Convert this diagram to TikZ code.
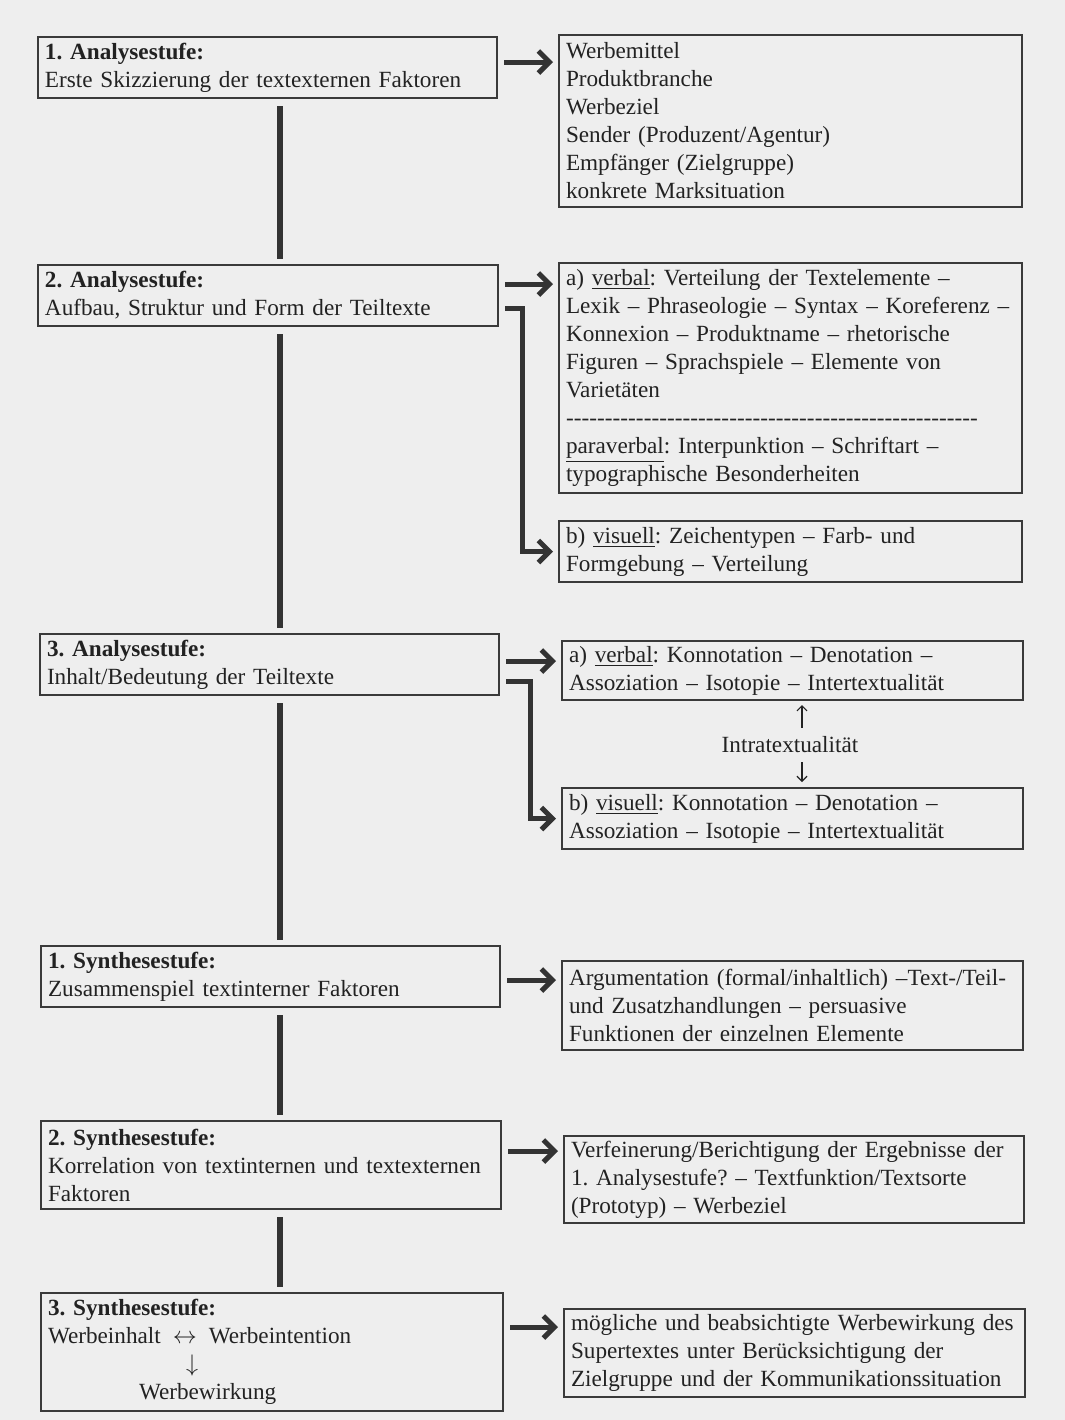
\documentclass[tikz,border=0pt]{standalone}
\usepackage{fontspec}
\setmainfont{Liberation Serif}
\usetikzlibrary{arrows.meta}
\frenchspacing
\definecolor{paper}{HTML}{EEEEEE}
\definecolor{txtc}{HTML}{222222}
\definecolor{boxc}{HTML}{3A3A3A}
\definecolor{arrc}{HTML}{333333}
\newcommand\fs{\fontsize{11.6}{14}\selectfont\frenchspacing}
\newcommand\dashrow{\leavevmode\hbox to 206pt{\xleaders\hbox{-}\hfill}}
\tikzset{
  box/.style={draw=boxc, line width=1pt, anchor=north west, align=left,
    inner xsep=3.5pt, inner ysep=1pt, font=\fs, text=txtc},
  harr/.style={draw=arrc, line width=2.5pt, shorten <=3pt, shorten >=2.5pt,
    -{Straight Barb[length=5.5pt,width=11pt]}},
  vline/.style={draw=arrc, line width=3pt, shorten <=3.5pt, shorten >=2.5pt},
  thinarr/.style={draw=txtc, line width=0.6pt, -{Straight Barb[length=2.5pt,width=5pt]}}
}
\begin{document}
\begin{tikzpicture}[x=0.5pt,y=-0.5pt]
\fill[paper] (0,0) rectangle (1065,1420);
\path[use as bounding box] (0,0) rectangle (1065,1420);

% left column
\node[box, text width=222.5pt, minimum height=30.5pt] (a1) at (37,36)
  {\textbf{1. Analysestufe:}\\Erste Skizzierung der textexternen Faktoren};
\node[box, text width=223pt, minimum height=30.5pt] (a2) at (37,264)
  {\textbf{2. Analysestufe:}\\Aufbau, Struktur und Form der Teiltexte};
\node[box, text width=222.5pt, minimum height=30.5pt] (a3) at (39,633)
  {\textbf{3. Analysestufe:}\\Inhalt/Bedeutung der Teiltexte};
\node[box, text width=222.5pt, minimum height=30.5pt] (s1) at (40,945)
  {\textbf{1. Synthesestufe:}\\Zusammenspiel textinterner Faktoren};
\node[box, text width=223pt, minimum height=44pt] (s2) at (40,1120)
  {\textbf{2. Synthesestufe:}\\Korrelation von textinternen und textexternen\\Faktoren};
\node[box, text width=224pt, minimum height=59pt] (s3) at (40,1292)
  {\textbf{3. Synthesestufe:}\\Werbeinhalt\hspace{6pt}$\leftrightarrow$\hspace{6pt}Werbeintention\\
   \hspace*{69pt}$\downarrow$\\\hspace*{45.5pt}Werbewirkung};

% right column
\node[box, text width=224.5pt, minimum height=86pt] (r1) at (558,34)
  {Werbemittel\\Produktbranche\\Werbeziel\\Sender (Produzent/Agentur)\\Empfänger (Zielgruppe)\\konkrete Marksituation};
\node[box, text width=224.5pt, minimum height=115pt] (r2) at (558,262)
  {a) \underline{verbal}: Verteilung der Textelemente –\\
   Lexik – Phraseologie – Syntax – Koreferenz –\\
   Konnexion – Produktname – rhetorische\\
   Figuren – Sprachspiele – Elemente von\\
   Varietäten\\
   \dashrow\\
   \underline{paraverbal}: Interpunktion – Schriftart –\\
   typographische Besonderheiten};
\node[box, text width=224.5pt, minimum height=30.5pt] (r3) at (558,520)
  {b) \underline{visuell}: Zeichentypen – Farb- und\\Formgebung – Verteilung};
\node[box, text width=223.5pt, minimum height=29.5pt] (r4) at (561,640)
  {a) \underline{verbal}: Konnotation – Denotation –\\Assoziation – Isotopie – Intertextualität};
\node[box, text width=223.5pt, minimum height=30.5pt] (r5) at (561,787)
  {b) \underline{visuell}: Konnotation – Denotation –\\Assoziation – Isotopie – Intertextualität};
\node[font=\fs, text=txtc] (intra) at (790,745) {Intratextualität};
\node[box, text width=223.5pt, minimum height=44.5pt] (r6) at (561,960)
  {Argumentation (formal/inhaltlich) –Text-/Teil-\\und Zusatzhandlungen – persuasive\\Funktionen der einzelnen Elemente};
\node[box, text width=223pt, minimum height=43.5pt] (r7) at (563,1135)
  {Verfeinerung/Berichtigung der Ergebnisse der\\1. Analysestufe? – Textfunktion/Textsorte\\(Prototyp) – Werbeziel};
\node[box, text width=223.5pt, minimum height=44pt] (r8) at (563,1308)
  {mögliche und beabsichtigte Werbewirkung des\\Supertextes unter Berücksichtigung der\\Zielgruppe und der Kommunikationssituation};

% spine
\coordinate (sp) at (280,0);
\draw[vline] (a1.south -| sp) -- (a2.north -| sp);
\draw[vline] (a2.south -| sp) -- (a3.north -| sp);
\draw[vline] (a3.south -| sp) -- (s1.north -| sp);
\draw[vline] (s1.south -| sp) -- (s2.north -| sp);
\draw[vline] (s2.south -| sp) -- (s3.north -| sp);

% horizontal arrows
\draw[harr] (a1.east |- 0,62) -- (r1.west |- 0,62);
\draw[harr] (a2.east |- 0,284) -- (r2.west |- 0,284);
\draw[harr] (a2.east |- 0,308) -- (522,308) |- (r3.west);
\draw[harr] (a3.east |- 0,661) -- (r4.west |- 0,661);
\draw[harr] (a3.east |- 0,681) -- (530,681) |- (r5.west);
\draw[harr] (s1.east |- 0,980) -- (r6.west |- 0,980);
\draw[harr] (s2.east |- 0,1151) -- (r7.west |- 0,1151);
\draw[harr] (s3.east |- 0,1327) -- (r8.west |- 0,1327);

% intratextuality arrows
\coordinate (ia) at (802,0);
\draw[thinarr, shorten <=1pt, shorten >=2pt] (intra.north -| ia) -- (r4.south -| ia);
\draw[thinarr, shorten <=1pt, shorten >=2.5pt] (intra.south -| ia) -- (r5.north -| ia);
\end{tikzpicture}
\end{document}
